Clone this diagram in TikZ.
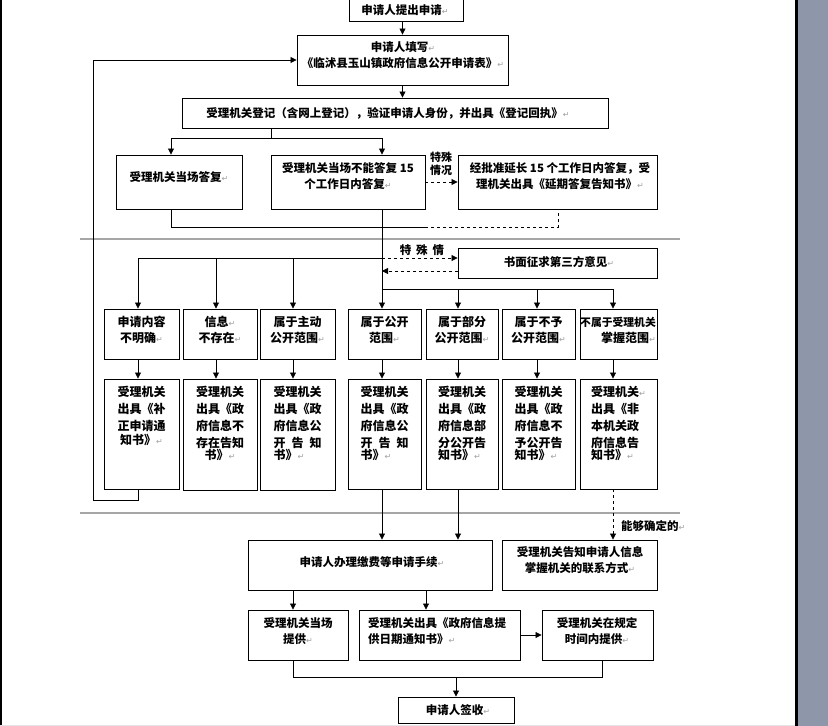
\documentclass[tikz,border=0pt]{standalone}
\usepackage{fontspec}
\usetikzlibrary{arrows.meta,calc}
\newfontfamily\cjk{Noto Sans CJK SC}
\newfontfamily\djv{DejaVu Sans}
\definecolor{pmgray}{HTML}{A0A0A0}
\definecolor{sepgray}{HTML}{A6A6A6}
\definecolor{barcol}{HTML}{8E96AA}
\newcommand\pmk{{\djv\mdseries\fontsize{8}{8}\selectfont\color{pmgray}↵}}
\newcommand\bx[6][]{\node[box,#1,minimum width={(#4-#2)*1pt},minimum height={(#5-#3)*1pt}] (#6) at ({(#2+#4)/2},{(#3+#5)/2}) {};}
\tikzset{
  box/.style={draw, line width=0.9pt, inner sep=0pt, fill=white},
  txt/.style={inner sep=0pt, align=center, font=\cjk\bfseries\fontsize{11.5}{16}\selectfont},
  doctxt/.style={inner sep=0pt, anchor=north, font=\cjk\bfseries\fontsize{12}{17}\selectfont},
  cattxt/.style={inner sep=0pt, align=center, font=\cjk\bfseries\fontsize{12}{16}\selectfont},
  arr/.style={-{Triangle[length=6pt,width=6pt]}, line width=0.8pt},
  ln/.style={line width=0.8pt},
  sep/.style={draw=sepgray, line width=1.2pt},
}
\begin{document}
\begin{tikzpicture}[x=1pt,y=-1pt]
\useasboundingbox (0,0) rectangle (828,726);
% page furniture
\fill[white] (0,0) rectangle (828,726);
\fill[black] (0,0) rectangle (1.5,726);
\fill[black] (795,0) rectangle (798,726);
\fill[barcol] (798,0) rectangle (828,726);
\fill[black!10] (0,724.5) rectangle (795,726);
% separators
\draw[sep] (80,239) -- (680,239);
\draw[sep] (80,513) -- (680,513);

% boxes
\bx{349}{-5}{463}{21}{b1}
\bx{297}{35}{508}{85}{b2}
\bx{182}{98}{608}{128}{b3}
\bx{116}{155}{242}{209}{b4}
\bx{271}{155}{425}{209}{b5}
\bx{458}{155}{657}{209}{b6}
\bx{458}{248}{657}{278}{b7}
\bx{104}{309}{179}{359}{A1}
\bx{183}{309}{257}{359}{B1}
\bx{260}{309}{335}{359}{C1}
\bx{348}{309}{421}{359}{D1}
\bx{426}{309}{498}{359}{E1}
\bx{502}{309}{575}{359}{F1}
\bx{580}{309}{657}{359}{G1}
\bx{104}{379}{179}{489}{A2}
\bx{183}{379}{257}{490}{B2}
\bx{260}{379}{335}{490}{C2}
\bx{348}{379}{421}{489}{D2}
\bx{426}{379}{498}{489}{E2}
\bx{502}{379}{575}{489}{F2}
\bx{580}{379}{657}{489}{G2}
\bx{248}{540}{492}{590}{b8}
\bx{502}{540}{657}{590}{b9}
\bx{248}{610}{348}{660}{b10}
\bx{359}{610}{520}{660}{b11}
\bx{542}{610}{653}{660}{b12}
\bx{398}{697}{514}{723}{b13}

% texts
\node[txt] (t1) at (405,10) {申请人提出申请\pmk};
\node[txt] (t2) at (403,55) {申请人填写\pmk\\《临沭县玉山镇政府信息公开申请表》\pmk};
\node[txt] (t3) at (388,113) {受理机关登记（含网上登记），验证申请人身份，并出具《登记回执》\pmk};
\node[txt] (t4) at (179,177) {受理机关当场答复\pmk};
\node[txt] (t5) at (348,176) {受理机关当场不能答复 15\\个工作日内答复\pmk};
\node[txt] (t6) at (560,176) {经批准延长 15 个工作日内答复，受\\理机关出具《延期答复告知书》\pmk};
\node[txt, font=\cjk\bfseries\fontsize{11}{13}\selectfont] (l1) at (441,164) {特殊\\情况};
\node[txt] (l2) at (422,250) {特\hspace{5pt}殊\hspace{5pt}情};
\node[txt] (t7) at (559,262) {书面征求第三方意见\pmk};

\node[cattxt] (a1t) at (141.5,330) {申请内容\\不明确\pmk};
\node[cattxt] (b1t) at (220,330) {信息\pmk\\不存在\pmk};
\node[cattxt] (c1t) at (297.5,330) {属于主动\\公开范围\pmk};
\node[cattxt] (d1t) at (384.5,330) {属于公开\\范围\pmk};
\node[cattxt] (e1t) at (462,330) {属于部分\\公开范围\pmk};
\node[cattxt] (f1t) at (538.5,330) {属于不予\\公开范围\pmk};
\node[cattxt, align=right] (g1t) at (618,330) {{\fontsize{10.8}{16}\selectfont 不属于受理机关}\\掌握范围\pmk};

\node[doctxt, align=center] (a2t) at (141.5,386) {受理机关\\出具《补\\正申请通\\[-3pt]知书》\pmk};
\node[doctxt, align=center] (b2t) at (220,386) {受理机关\\出具《政\\府信息不\\存在告知\\[-5pt]书》\pmk};
\node[doctxt, align=left] (c2t) at (297.5,386) {受理机关\\出具《政\\府信息公\\\makebox[48pt][s]{开\hfill 告\hfill 知}\\[-5pt]书》\pmk};
\node[doctxt, align=left] (d2t) at (384.5,386) {受理机关\\出具《政\\府信息公\\\makebox[48pt][s]{开\hfill 告\hfill 知}\\[-5pt]书》\pmk};
\node[doctxt, align=left] (e2t) at (462,386) {受理机关\\出具《政\\府信息部\\分公开告\\[-5pt]知书》\pmk};
\node[doctxt, align=left] (f2t) at (538.5,386) {受理机关\\出具《政\\府信息不\\予公开告\\[-5pt]知书》\pmk};
\node[doctxt, align=left] (g2t) at (618.5,386) {受理机关\pmk\\出具《非\\本机关政\\府信息告\\[-5pt]知书》\pmk};

\node[txt] (t8) at (372,562) {申请人办理缴费等申请手续\pmk};
\node[txt] (t9) at (580,560) {受理机关告知申请人信息\\掌握机关的联系方式\pmk};
\node[txt, anchor=west] (l3) at (621,526) {能够确定的\pmk};
\node[txt] (t10) at (298,631) {受理机关当场\\提供\pmk};
\node[txt, align=left, anchor=west] (t11) at (368,631) {受理机关出具《政府信息提\\供日期通知书》\pmk};
\node[txt] (t12) at (597,631) {受理机关在规定\\时间内提供\pmk};
\node[txt] (t13) at (458,710) {申请人签收\pmk};

% helper coordinates
\coordinate (k4) at (171,138);
\coordinate (k5) at (382,138);
\coordinate (br) at (271,138);
\coordinate (xA) at (138,258);
\coordinate (xB) at (216,258);
\coordinate (xC) at (293,258);
\coordinate (j) at (382,258);
\coordinate (j2) at (458,271);
\coordinate (xD) at (382,289);
\coordinate (xE) at (458,289);
\coordinate (xF) at (537,289);
\coordinate (xG) at (613,289);
\coordinate (fb) at (93,500);
\coordinate (d0) at (171,227);
\coordinate (d1) at (425,227);
\coordinate (d2) at (558,227);
\coordinate (p1) at (293,590);
\coordinate (p2) at (426,590);
\coordinate (q1) at (293,677);
\coordinate (q2) at (602,677);
\coordinate (q3) at (456,677);

% connectors top
\draw[arr] (b2.north |- b1.south) -- (b2.north);
\draw[arr] (b2.south) -- (b2.south |- b3.north);
\draw[ln] (b3.south -| br) -- (br);
\draw[ln] (k4) -- (k5);
\draw[arr] (k4) -- (k4 |- b4.north);
\draw[arr] (k5) -- (k5 |- b5.north);
\draw[arr, dashed] (b5.east) -- (b5.east -| b6.west);
\draw[ln] (b4.south -| d0) -- (d0) -- (d1);
\draw[ln, dashed] (d1) -- (d2) -- (d2 |- b6.south);

% middle branching
\draw[arr] (xD |- b5.south) -- (xD |- D1.north);
\draw[ln] (xA) -- (j);
\draw[ln] (xD) -- (xG);
\draw[arr, dashed] (j) -- (j -| b7.west);
\draw[arr, dashed] (j2) -- (j2 -| xD);
\foreach \c/\n in {xA/A,xB/B,xC/C} {
  \draw[arr] (\c) -- (\c |- \n1.north);
}
\foreach \c/\n in {xE/E,xF/F,xG/G} {
  \draw[arr] (\c) -- (\c |- \n1.north);
}
\foreach \c/\n in {xA/A,xB/B,xC/C,xD/D,xE/E,xF/F,xG/G} {
  \draw[arr] (\c |- \n1.south) -- (\c |- \n2.north);
}
% feedback loop
\draw[arr] (xA |- A2.south) |- (fb) |- (b2.west);

% bottom part
\draw[arr] (xD |- D2.south) -- (xD |- b8.north);
\draw[arr] (xE |- E2.south) -- (xE |- b8.north);
\draw[arr, dashed] (xG |- G2.south) -- (xG |- b9.north);
\draw[arr] (p1) -- (p1 |- b10.north);
\draw[arr] (p2) -- (p2 |- b11.north);
\draw[arr] (b11.east) -- (b11.east -| b12.west);
\draw[ln] (q1 |- b10.south) -- (q1) -- (q2) -- (q2 |- b12.south);
\draw[arr] (q3) -- (q3 |- b13.north);
\end{tikzpicture}
\end{document}
